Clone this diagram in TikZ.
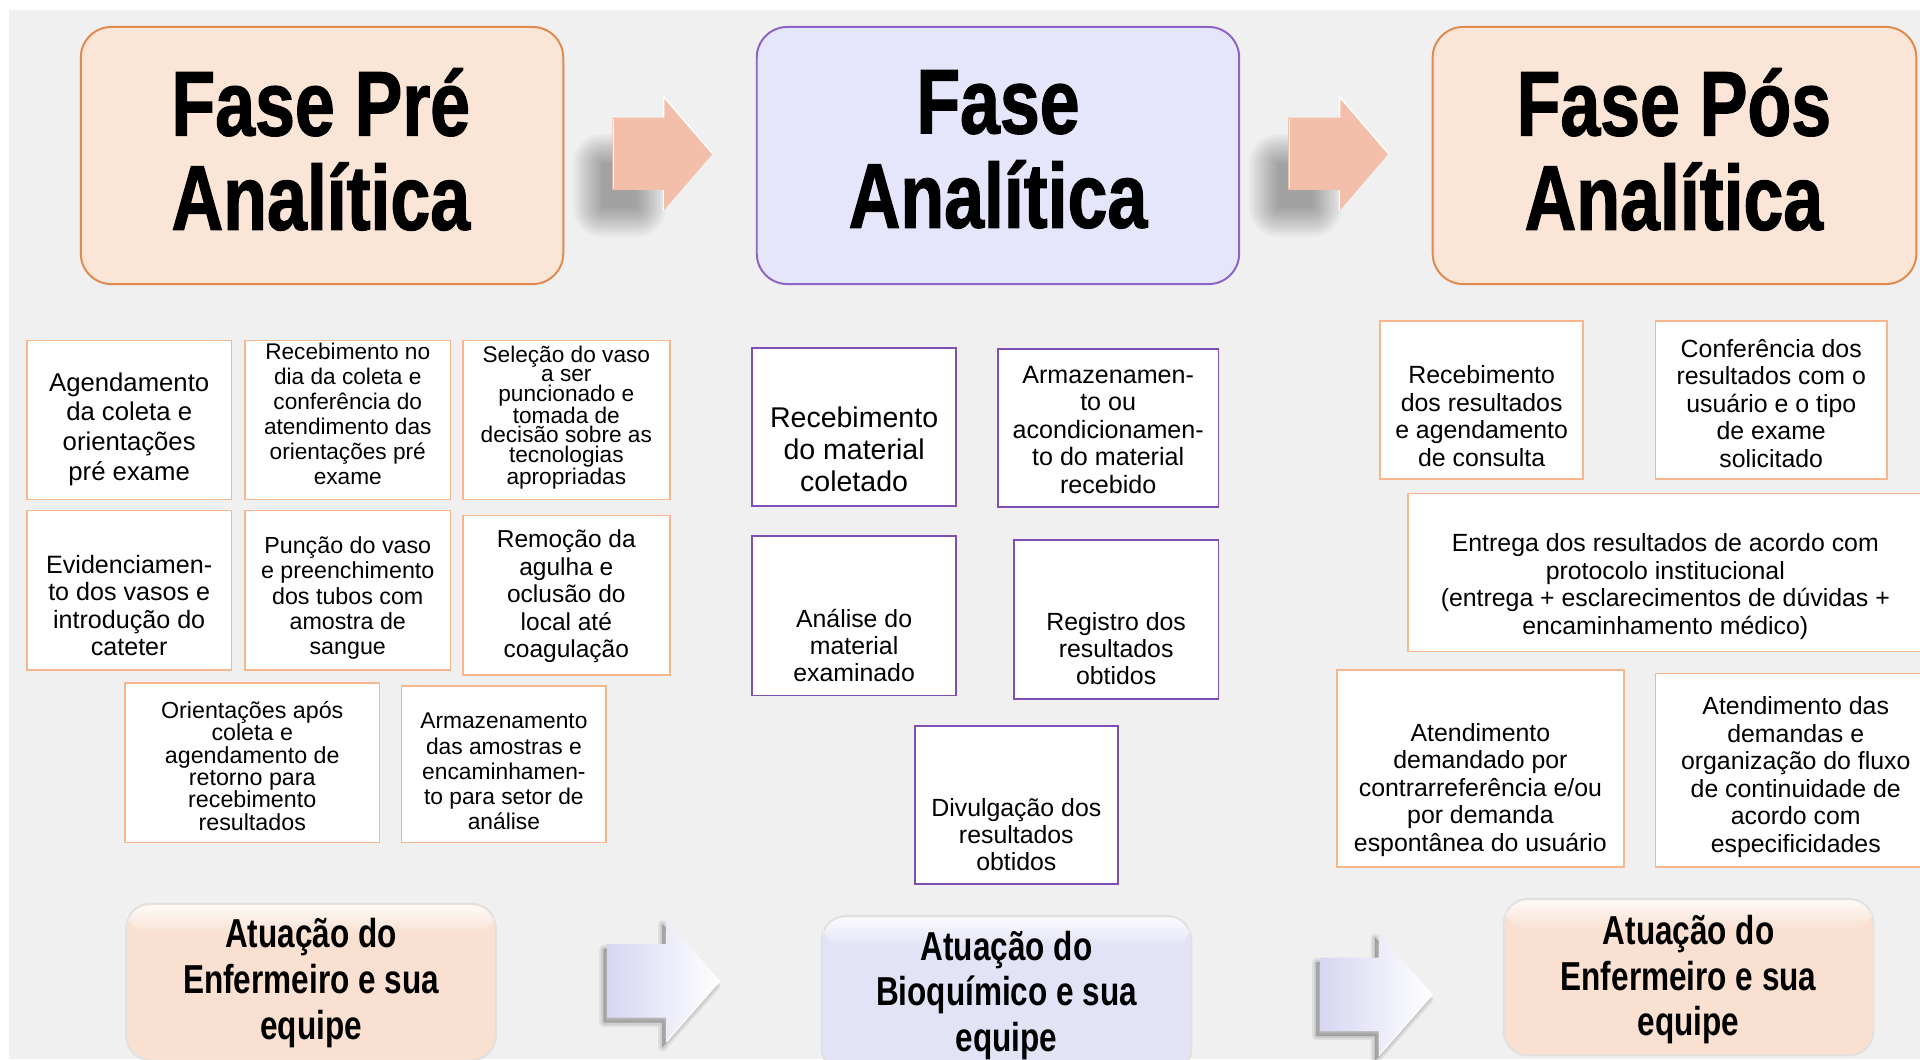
\documentclass[tikz,border=0pt]{standalone}
\usepackage{fontspec}
\setmainfont{Liberation Sans}
\newfontfamily\narrowfont{Liberation Sans}[FakeStretch=0.78]
\newfontfamily\heavyfont{Liberation Sans}[FakeStretch=0.78, BoldFeatures={FakeBold=1.3}]
\usetikzlibrary{fadings}

\definecolor{bggray}{HTML}{F0F0F0}
\definecolor{peachfill}{HTML}{FBE5D6}
\definecolor{peachline}{HTML}{E2894D}
\definecolor{lavfill}{HTML}{E5E5FB}
\definecolor{lavline}{HTML}{8D63C6}
\definecolor{boxorange}{HTML}{F7B68C}
\definecolor{boxpurple}{HTML}{7F4FB5}
\definecolor{arrowpeach}{HTML}{F3BEAA}
\definecolor{arrowlav}{HTML}{D6D6F2}
\definecolor{peachteam}{HTML}{F9E0D0}
\definecolor{lavteam}{HTML}{E3E3F8}

\tikzset{
  phasebox/.style={rounded corners=25pt, line width=1.6pt, minimum width=394pt, minimum height=210pt, inner sep=0pt},
  peachphase/.style={phasebox, fill=peachfill, draw=peachline},
  lavphase/.style={phasebox, fill=lavfill, draw=lavline},
  taskbox/.style={draw, fill=white, line width=1.4pt, inner sep=0pt},
  orangetask/.style={taskbox, draw=boxorange},
  purpletask/.style={taskbox, draw=boxpurple},
  tasktext/.style={align=center, inner sep=0pt, font=\fontsize{20.3}{22.5}\selectfont},
  titletext/.style={align=center, inner sep=0pt, font=\heavyfont\bfseries\fontsize{75}{77}\selectfont},
  teambox/.style={rounded corners=20pt, minimum width=302pt, minimum height=128pt, inner sep=0pt, draw=black!12, line width=1.5pt},
  teamtext/.style={align=center, inner sep=0pt, font=\narrowfont\bfseries\fontsize{33}{37.5}\selectfont},
  pics/phasearrow/.style={code={
    % soft shadow
    \foreach \d in {24,22,...,0}
      \fill[black, opacity=0.026, rounded corners=\d pt] (-90-\d,-8+\d) rectangle (-62+\d,-44-\d);
    \fill[arrowpeach] (-82,-29.5) -- (-40,-29.5) -- (-40,-46.5) -- (0,0) -- (-40,46.5) -- (-40,29.5) -- (-82,29.5) -- cycle;
    \draw[white, line width=1pt] (-81,-28) -- (-81,28);
    \draw[white, line width=1.2pt] (-40,-29.5) -- (-40,-46.5);
    \draw[white, line width=1.2pt] (-40,29.5) -- (-40,46.5) -- (0,0);
  }},
  pics/teamarrow/.style={code={
    \begin{scope}[shift={(-3,-4)}]
      \foreach \lw in {7,4,1}
        \filldraw[black, opacity=0.07, line width=\lw pt, line join=round]
          (-92,-30) -- (-44,-30) -- (-44,-50) -- (0,0) -- (-44,50) -- (-44,30) -- (-92,30) -- cycle;
    \end{scope}
    \shade[left color=arrowlav, right color=white] (-92,-30) -- (-44,-30) -- (-44,-50) -- (0,0) -- (-44,50) -- (-44,30) -- (-92,30) -- cycle;
    \draw[white, line width=1pt] (-44,-50) -- (0,0);
  }}
}

\begin{document}
\begin{tikzpicture}[x=1pt,y=1pt,yscale=-1]
\useasboundingbox (0,0) rectangle (1568,865);
\clip (0,0) rectangle (1568,865);
\fill[white] (0,0) rectangle (1568,865);
\fill[bggray] (7,8) rectangle (1568,865);

% phases
\pic at (582,125.5) {phasearrow};
\pic at (1134,125.5) {phasearrow};

\node[peachphase] (pre) at (263,127) {};
\node[lavphase] (ana) at (815,127) {};
\node[peachphase, minimum width=395pt] (pos) at (1367.5,127) {};
\node[titletext] (pret) at (262,122) {Fase Pré\\Analítica};
\node[titletext] (anat) at (815,122) {Fase\\Analítica};
\node[titletext] (post) at (1367,122) {Fase Pós\\Analítica};

% pre analitica
\node[orangetask, minimum width=167pt, minimum height=130pt] (a1) at (105.5,343) {};
\node[orangetask, minimum width=168pt, minimum height=130pt] (a2) at (284,343) {};
\node[orangetask, minimum width=169pt, minimum height=130pt] (a3) at (462.5,343) {};
\node[orangetask, minimum width=167pt, minimum height=130pt] (b1) at (105.5,482) {};
\node[orangetask, minimum width=168pt, minimum height=130pt] (b2) at (284,482) {};
\node[orangetask, minimum width=169pt, minimum height=130pt] (b3) at (462.5,486) {};
\node[orangetask, minimum width=208pt, minimum height=130pt] (c1) at (206,623) {};
\node[orangetask, minimum width=167pt, minimum height=128pt] (c2) at (411.5,624) {};

\node[tasktext, font=\fontsize{21}{24.3}\selectfont] (a1t) at (105.5,350.5) {Agendamento\\da coleta e\\orientações\\pré exame};
\node[tasktext, font=\fontsize{18.5}{20.4}\selectfont] (a2t) at (284,338) {Recebimento no\\dia da coleta e\\conferência do\\atendimento das\\orientações pré\\exame};
\node[tasktext, font=\fontsize{18.5}{15.8}\selectfont] (a3t) at (462.5,341) {Seleção do vaso\\a ser\\puncionado e\\tomada de\\decisão sobre as\\tecnologias\\apropriadas};
\node[tasktext, font=\fontsize{20.5}{22.5}\selectfont] (b1t) at (105.5,494.5) {Evidenciamen-\\to dos vasos e\\introdução do\\cateter};
\node[tasktext, font=\fontsize{19}{20.7}\selectfont] (b2t) at (284,488.5) {Punção do vaso\\e preenchimento\\dos tubos com\\amostra de\\sangue};
\node[tasktext, font=\fontsize{20}{22.5}\selectfont] (b3t) at (462.5,487) {Remoção da\\agulha e\\oclusão do\\local até\\coagulação};
\node[tasktext, font=\fontsize{19}{18.2}\selectfont] (c1t) at (206,625.5) {Orientações após\\coleta e\\agendamento de\\retorno para\\recebimento\\resultados};
\node[tasktext, font=\fontsize{18.6}{20.5}\selectfont] (c2t) at (411.5,630) {Armazenamento\\das amostras e\\encaminhamen-\\to para setor de\\análise};

% analitica
\node[purpletask, minimum width=167pt, minimum height=129pt] (m1) at (697.5,348.5) {};
\node[purpletask, minimum width=180pt, minimum height=129pt] (m2) at (905,349.5) {};
\node[purpletask, minimum width=167pt, minimum height=130pt] (m3) at (697.5,503) {};
\node[purpletask, minimum width=167pt, minimum height=130pt] (m4) at (911.5,506) {};
\node[purpletask, minimum width=166pt, minimum height=129pt] (m5) at (830,657.5) {};

\node[tasktext, font=\fontsize{23.3}{26}\selectfont] (m1t) at (697.5,367) {Recebimento\\do material\\coletado};
\node[tasktext, font=\fontsize{20.5}{22.5}\selectfont] (m2t) at (905,351) {Armazenamen-\\to ou\\acondicionamen-\\to do material\\recebido};
\node[tasktext, font=\fontsize{20.3}{22}\selectfont] (m3t) at (697.5,527) {Análise do\\material\\examinado};
\node[tasktext, font=\fontsize{20.3}{22}\selectfont] (m4t) at (911.5,530) {Registro dos\\resultados\\obtidos};
\node[tasktext, font=\fontsize{20.3}{22}\selectfont] (m5t) at (830,681.5) {Divulgação dos\\resultados\\obtidos};

% pos analitica
\node[orangetask, minimum width=166pt, minimum height=129pt] (r1) at (1210,326.5) {};
\node[orangetask, minimum width=189pt, minimum height=129pt] (r2) at (1446.5,326.5) {};
\node[orangetask, minimum width=422pt, minimum height=129pt] (r3) at (1361,467.5) {};
\node[orangetask, minimum width=234pt, minimum height=161pt] (r4) at (1209,627.5) {};
\node[orangetask, minimum width=229pt, minimum height=158pt] (r5) at (1466.5,629) {};

\node[tasktext] (r1t) at (1210,340) {Recebimento\\dos resultados\\e agendamento\\de consulta};
\node[tasktext] (r2t) at (1446.5,329.5) {Conferência dos\\resultados com o\\usuário e o tipo\\de exame\\solicitado};
\node[tasktext] (r3t) at (1360,479) {Entrega dos resultados de acordo com\\protocolo institucional\\(entrega + esclarecimentos de dúvidas +\\encaminhamento médico)};
\node[tasktext] (r4t) at (1209,645) {Atendimento\\demandado por\\contrarreferência e/ou\\por demanda\\espontânea do usuário};
\node[tasktext] (r5t) at (1466.5,634.5) {Atendimento das\\demandas e\\organização do fluxo\\de continuidade de\\acordo com\\especificidades};

% equipes
\node[teambox, fill=peachteam] (eq1) at (254,802) {};
\node[teambox, fill=lavteam] (eq2) at (822,812) {};
\node[teambox, fill=peachteam] (eq3) at (1379,798) {};
\foreach \eq in {eq1,eq2,eq3}
  \fill[white, opacity=0.85, path fading=south, rounded corners=18pt]
    ([xshift=2pt,yshift=2pt]\eq.north west) rectangle ([xshift=-2pt,yshift=26pt]\eq.north east);
\node[teamtext] (eq1t) at (254,803) {Atuação do\\Enfermeiro e sua\\equipe};
\node[teamtext] (eq2t) at (822,813) {Atuação do\\Bioquímico e sua\\equipe};
\node[teamtext] (eq3t) at (1379,800) {Atuação do\\Enfermeiro e sua\\equipe};

\pic at (588,801) {teamarrow};
\pic at (1170,812) {teamarrow};
\end{tikzpicture}
\end{document}
